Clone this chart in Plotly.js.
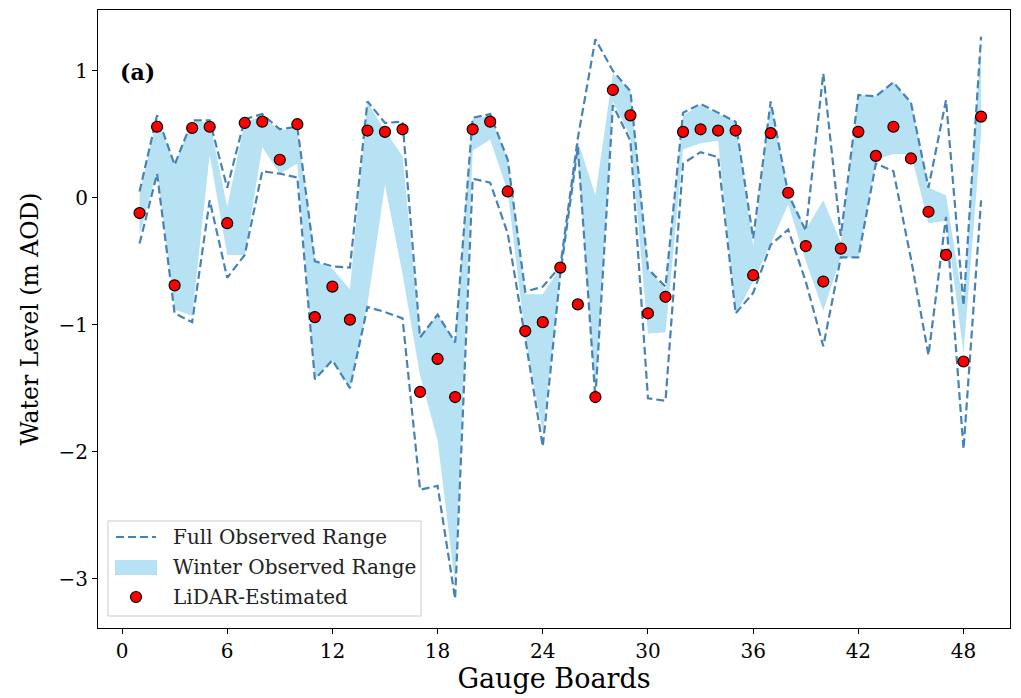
<!DOCTYPE html>
<html>
<head>
<meta charset="utf-8">
<script src="https://cdn.plot.ly/plotly-3.0.1.min.js"></script>
<style>
  html, body { margin: 0; padding: 0; background: #ffffff; }
  #chart { width: 1021px; height: 698px; }
</style>
</head>
<body>
<div id="chart"></div>
<script>
// Gauge board numbers
var gauges = [1,2,3,4,5,6,7,8,9,10,11,12,13,14,15,16,17,18,19,20,21,22,23,24,25,
              26,27,28,29,30,31,32,33,34,35,36,37,38,39,40,41,42,43,44,45,46,47,48,49];

// Full observed range (m AOD)
var fullMax = [0.05,0.65,0.26,0.61,0.61,0.08,0.62,0.66,0.54,0.56,-0.50,-0.54,-0.55,0.76,0.59,0.60,
               -1.10,-0.92,-1.14,0.63,0.66,0.30,-0.74,-0.70,-0.54,0.47,1.25,1.00,0.84,-0.56,-0.70,
               0.67,0.74,0.67,0.60,-0.32,0.76,0.03,-0.26,0.98,-0.30,0.81,0.80,0.91,0.75,0.08,0.77,-0.85,1.27];
var fullMin = [-0.36,0.19,-0.91,-0.98,-0.02,-0.63,-0.45,0.21,0.19,0.16,-1.43,-1.28,-1.50,-0.86,-0.90,-0.95,
               -2.30,-2.27,-3.16,0.15,0.12,-0.28,-1.11,-1.96,-0.60,0.40,-1.58,0.73,0.45,-1.58,-1.60,
               0.27,0.36,0.32,-0.91,-0.75,-0.37,-0.25,-0.66,-1.17,-0.47,-0.47,0.27,0.21,-0.48,-1.24,-0.15,-1.98,-0.02];

// Winter observed range (m AOD)
var winterMax = [0.03,0.63,0.26,0.60,0.60,-0.07,0.60,0.64,0.53,0.55,-0.50,-0.56,-0.72,0.75,0.53,0.33,
                 -1.10,-0.92,-1.14,0.62,0.65,0.30,-0.76,-0.76,-0.55,0.45,0.02,0.98,0.84,-0.56,-0.72,
                 0.65,0.73,0.66,0.60,-0.38,0.75,0.03,-0.25,-0.02,-0.35,0.81,0.80,0.91,0.75,0.08,0.02,-0.85,1.25];
var winterMin = [-0.29,0.21,-0.88,-0.93,0.34,-0.45,-0.45,0.40,0.19,0.27,-1.43,-1.28,-1.50,-0.84,0.10,-0.60,
                 -1.40,-1.91,-3.05,0.37,0.46,0.05,-1.10,-1.85,-0.60,0.35,-1.52,0.76,0.48,-1.07,-1.06,
                 0.38,0.43,0.45,-0.92,-0.66,-0.36,-0.05,-0.50,-0.89,-0.47,-0.47,0.30,0.345,0.345,-0.20,-0.18,-1.22,0.50];

// LiDAR-estimated water level (m AOD)
var lidar = [-0.12,0.56,-0.69,0.55,0.56,-0.20,0.59,0.60,0.30,0.58,-0.94,-0.70,-0.96,0.53,0.52,0.54,
             -1.53,-1.27,-1.57,0.54,0.60,0.05,-1.05,-0.98,-0.55,-0.84,-1.57,0.85,0.65,-0.91,-0.78,
             0.52,0.54,0.53,0.53,-0.61,0.51,0.04,-0.38,-0.66,-0.40,0.52,0.33,0.56,0.31,-0.11,-0.45,-1.29,0.64];

var xTicks = [0,6,12,18,24,30,36,42,48];
var yTicks = [-3,-2,-1,0,1];
var legendLabels = ['Full Observed Range', 'Winter Observed Range', 'LiDAR-Estimated'];

var serif = '"DejaVu Serif", serif';
var lineColor = '#4682B4';
var bandColor = 'rgba(135,206,235,0.6)';
var dotColor = '#ff0000';

var traces = [
  { x: gauges, y: winterMin, type: 'scatter', mode: 'lines',
    line: { width: 0, color: bandColor }, hoverinfo: 'skip' },
  { x: gauges, y: winterMax, type: 'scatter', mode: 'lines', fill: 'tonexty',
    fillcolor: bandColor, line: { width: 0, color: bandColor }, name: legendLabels[1] },
  { x: gauges, y: fullMax, type: 'scatter', mode: 'lines',
    line: { color: lineColor, width: 2.2, dash: '8px,4px' }, name: legendLabels[0] },
  { x: gauges, y: fullMin, type: 'scatter', mode: 'lines',
    line: { color: lineColor, width: 2.2, dash: '8px,4px' } },
  { x: gauges, y: lidar, type: 'scatter', mode: 'markers',
    marker: { color: dotColor, size: 11, line: { color: '#000000', width: 1.2 } },
    name: legendLabels[2] }
];

// Manual legend (paper coordinates of the plot area)
var PW = 912, PH = 618;
function px(x) { return (x - 98) / PW; }
function py(y) { return (628 - y) / PH; }

var rowY = [537, 567, 597];
var shapes = [
  { type: 'rect', xref: 'paper', yref: 'paper', x0: px(108), x1: px(421), y0: py(616), y1: py(521),
    line: { color: '#cccccc', width: 1 }, fillcolor: 'rgba(255,255,255,0.85)', layer: 'above' },
  { type: 'line', xref: 'paper', yref: 'paper', x0: px(116), x1: px(156), y0: py(rowY[0]), y1: py(rowY[0]),
    line: { color: lineColor, width: 2.2, dash: '8px,4px' }, layer: 'above' },
  { type: 'rect', xref: 'paper', yref: 'paper', x0: px(115), x1: px(157), y0: py(575), y1: py(560),
    line: { width: 0 }, fillcolor: bandColor, layer: 'above' },
  { type: 'circle', xref: 'paper', yref: 'paper', x0: px(130.5), x1: px(141.5), y0: py(rowY[2] + 5.5), y1: py(rowY[2] - 5.5),
    line: { color: '#000000', width: 1.2 }, fillcolor: dotColor, layer: 'above' }
];

var annotations = [
  { xref: 'paper', yref: 'paper', x: 0.022, y: 0.90, xanchor: 'left', yanchor: 'middle',
    text: '<b>(a)</b>', showarrow: false, font: { family: serif, size: 22, color: '#000' } }
];
for (var i = 0; i < legendLabels.length; i++) {
  annotations.push({ xref: 'paper', yref: 'paper', x: px(171), y: py(rowY[i]), xanchor: 'left', yanchor: 'middle',
    text: legendLabels[i], showarrow: false, font: { family: serif, size: 20, color: '#222222' } });
}

var layout = {
  width: 1021, height: 698,
  margin: { l: 98, r: 11, t: 10, b: 70 },
  paper_bgcolor: '#ffffff', plot_bgcolor: '#ffffff',
  font: { family: serif, color: '#000000', size: 18 },
  showlegend: false,
  xaxis: {
    range: [-1.37, 50.65], tickvals: xTicks, ticks: 'outside', ticklen: 5, tickwidth: 1,
    tickcolor: '#000', showline: true, mirror: true, linecolor: '#000', linewidth: 1,
    showgrid: false, zeroline: false, tickfont: { family: serif, size: 20 },
    title: { text: 'Gauge Boards', font: { family: serif, size: 27 }, standoff: 3 }
  },
  yaxis: {
    range: [-3.39, 1.48], tickvals: yTicks, ticks: 'outside', ticklen: 5, tickwidth: 1,
    tickcolor: '#000', showline: true, mirror: true, linecolor: '#000', linewidth: 1,
    showgrid: false, zeroline: false, tickfont: { family: serif, size: 20 },
    title: { text: 'Water Level (m AOD)', font: { family: serif, size: 23.5 }, standoff: 13 }
  },
  shapes: shapes,
  annotations: annotations,
  hovermode: false
};

Plotly.newPlot('chart', traces, layout, { displayModeBar: false, staticPlot: true });
</script>
</body>
</html>
